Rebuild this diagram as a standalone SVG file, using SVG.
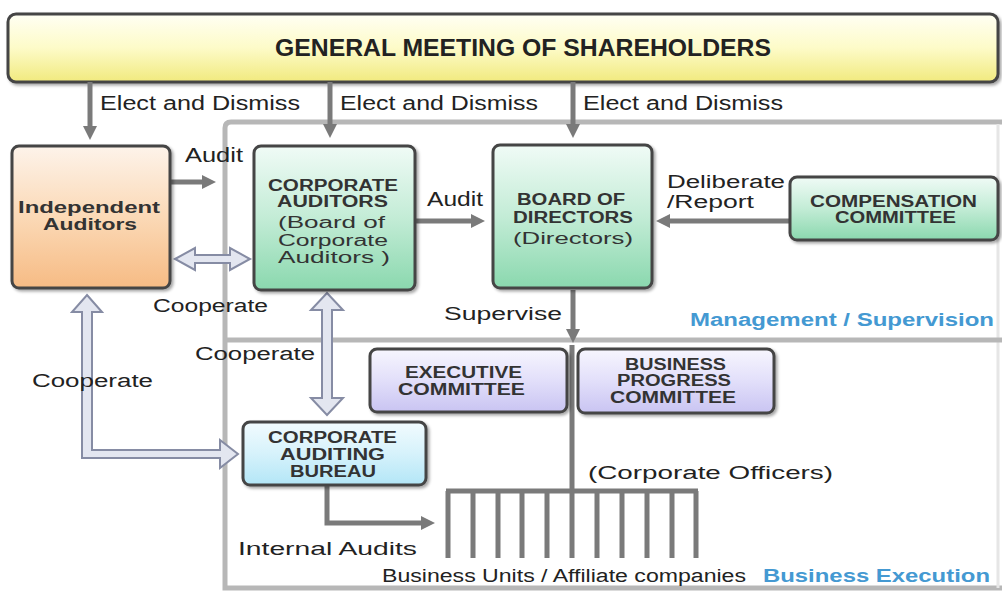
<svg xmlns="http://www.w3.org/2000/svg" width="1002" height="591" viewBox="0 0 1002 591">
<defs>
<linearGradient id="gY" x1="0" y1="0" x2="0" y2="1"><stop offset="0" stop-color="#fffff4"/><stop offset="0.5" stop-color="#fdfbc8"/><stop offset="1" stop-color="#f1ea7e"/></linearGradient>
<linearGradient id="gO" x1="0" y1="0" x2="0" y2="1"><stop offset="0" stop-color="#fdf3ea"/><stop offset="0.5" stop-color="#fbd9b6"/><stop offset="1" stop-color="#f6bb84"/></linearGradient>
<linearGradient id="gG" x1="0" y1="0" x2="0" y2="1"><stop offset="0" stop-color="#f0fbf6"/><stop offset="0.5" stop-color="#c3ecd6"/><stop offset="1" stop-color="#8ad8ae"/></linearGradient>
<linearGradient id="gP" x1="0" y1="0" x2="0" y2="1"><stop offset="0" stop-color="#f7f6fe"/><stop offset="0.5" stop-color="#e2dffa"/><stop offset="1" stop-color="#c9c4f2"/></linearGradient>
<linearGradient id="gB" x1="0" y1="0" x2="0" y2="1"><stop offset="0" stop-color="#f2fbfe"/><stop offset="0.5" stop-color="#d6f2fb"/><stop offset="1" stop-color="#b3e6f7"/></linearGradient>
<filter id="sh" x="-10%" y="-10%" width="130%" height="130%"><feDropShadow dx="2" dy="2" stdDeviation="1.5" flood-color="#000" flood-opacity="0.35"/></filter>
<marker id="ah" markerUnits="userSpaceOnUse" markerWidth="16" markerHeight="16" viewBox="0 0 16 16" refX="2" refY="8" orient="auto"><path d="M0,1 L14,8 L0,15 Z" fill="#7a7a7a"/></marker>
<style>
.box{stroke:#444;stroke-width:3;filter:url(#sh)}
.arr{stroke:#7a7a7a;stroke-width:5;fill:none;marker-end:url(#ah)}
.ln{stroke:#7a7a7a;stroke-width:5;fill:none}
.hol{fill:#e3e6f0;stroke:#868ca4;stroke-width:2;stroke-linejoin:miter}
.frame{fill:none;stroke:#b7b7b7;stroke-width:5}
text{font-family:"Liberation Sans",Arial,sans-serif;fill:#222}
.lb{font-size:18px}
.el{font-size:20px}
.bt{font-size:16px;font-weight:bold;fill:#333}
.bn{font-size:16px;fill:#333}
.blue{font-size:18px;font-weight:bold;fill:#4499d2}
</style>
</defs>
<rect width="1002" height="591" fill="#fff"/>
<g id="frame">
<path class="frame" d="M1002,122 H231 Q225,122 225,128 V588 H1002"/>
<line x1="998" y1="124" x2="998" y2="588" stroke="#e6e6e6" stroke-width="3"/>
<line class="frame" x1="225" y1="340" x2="1002" y2="340"/>
</g>
<g id="shareholders">
<rect class="box" x="8" y="14" width="990" height="68" rx="8" fill="url(#gY)"/>
<text x="275" y="56" font-size="24" font-weight="bold" textLength="496" lengthAdjust="spacingAndGlyphs">GENERAL MEETING OF SHAREHOLDERS</text>
</g>
<g id="connectors">
<line class="arr" x1="90" y1="82" x2="90" y2="128"/>
<line class="arr" x1="330" y1="82" x2="330" y2="126"/>
<line class="arr" x1="573" y1="82" x2="573" y2="126"/>
<line class="arr" x1="170" y1="182" x2="204" y2="182"/>
<line class="arr" x1="415" y1="221" x2="473" y2="221"/>
<line class="arr" x1="790" y1="221" x2="668" y2="221"/>
<line class="arr" x1="573" y1="290" x2="573" y2="331"/>
<path class="ln" d="M572,345 V491"/>
<path class="arr" d="M327,485 V523 H423"/>
<path class="ln" d="M446,491 H698 M448,491 V558 M473,491 V558 M498,491 V558 M522,491 V558 M547,491 V558 M572,491 V558 M597,491 V558 M622,491 V558 M647,491 V558 M672,491 V558 M696,491 V558"/>
<polygon class="hol" points="175,259 195,248 195,255 230,255 230,248 250,259 230,270 230,263 195,263 195,270"/>
<polygon class="hol" points="327,293 343,310 332,310 332,398 343,398 327,415 311,398 322,398 322,310 311,310"/>
<polygon class="hol" points="87,295 102,312 92,312 92,450 220,450 220,440 238,454 220,468 220,458 82,458 82,312 72,312"/>
</g>
<g id="labels">
<text class="el" x="100" y="110" textLength="200" lengthAdjust="spacingAndGlyphs">Elect and Dismiss</text>
<text class="el" x="340" y="110" textLength="198" lengthAdjust="spacingAndGlyphs">Elect and Dismiss</text>
<text class="el" x="583" y="110" textLength="200" lengthAdjust="spacingAndGlyphs">Elect and Dismiss</text>
<text class="el" x="185" y="162" textLength="58" lengthAdjust="spacingAndGlyphs">Audit</text>
<text class="el" x="427" y="206" textLength="56" lengthAdjust="spacingAndGlyphs">Audit</text>
<text class="lb" x="667" y="188" font-size="17" textLength="118" lengthAdjust="spacingAndGlyphs">Deliberate</text>
<text class="lb" x="667" y="208" font-size="17" textLength="87" lengthAdjust="spacingAndGlyphs">/Report</text>
<text class="lb" x="153" y="312" textLength="115" lengthAdjust="spacingAndGlyphs">Cooperate</text>
<text class="lb" x="195" y="360" textLength="120" lengthAdjust="spacingAndGlyphs">Cooperate</text>
<text class="lb" x="32" y="387" textLength="121" lengthAdjust="spacingAndGlyphs">Cooperate</text>
<text class="lb" x="444" y="320" textLength="118" lengthAdjust="spacingAndGlyphs">Supervise</text>
<text class="blue" x="690" y="326" textLength="304" lengthAdjust="spacingAndGlyphs">Management / Supervision</text>
<text class="lb" x="588" y="479" textLength="245" lengthAdjust="spacingAndGlyphs">(Corporate Officers)</text>
<text class="lb" x="238" y="555" textLength="179" lengthAdjust="spacingAndGlyphs">Internal Audits</text>
<text class="lb" x="382" y="582" font-size="19" textLength="364" lengthAdjust="spacingAndGlyphs">Business Units / Affiliate companies</text>
<text class="blue" x="763" y="582" textLength="227" lengthAdjust="spacingAndGlyphs">Business Execution</text>
</g>
<g id="independent-auditors">
<rect class="box" x="12" y="146" width="158" height="142" rx="7" fill="url(#gO)"/>
<text class="bt" x="18" y="213" font-size="17" textLength="142" lengthAdjust="spacingAndGlyphs">Independent</text>
<text class="bt" x="43" y="230" font-size="17" textLength="94" lengthAdjust="spacingAndGlyphs">Auditors</text>
</g>
<g id="corporate-auditors">
<rect class="box" x="254" y="146" width="161" height="144" rx="7" fill="url(#gG)"/>
<text class="bt" x="268" y="191" textLength="130" lengthAdjust="spacingAndGlyphs">CORPORATE</text>
<text class="bt" x="277" y="207" textLength="111" lengthAdjust="spacingAndGlyphs">AUDITORS</text>
<text class="bn" x="278" y="228" textLength="107" lengthAdjust="spacingAndGlyphs">(Board of</text>
<text class="bn" x="278" y="246" textLength="110" lengthAdjust="spacingAndGlyphs">Corporate</text>
<text class="bn" x="278" y="263" textLength="112" lengthAdjust="spacingAndGlyphs">Auditors )</text>
</g>
<g id="board-of-directors">
<rect class="box" x="493" y="145" width="159" height="143" rx="7" fill="url(#gG)"/>
<text class="bt" x="517" y="205" textLength="108" lengthAdjust="spacingAndGlyphs">BOARD OF</text>
<text class="bt" x="513" y="223" textLength="120" lengthAdjust="spacingAndGlyphs">DIRECTORS</text>
<text class="bn" x="513" y="244" textLength="120" lengthAdjust="spacingAndGlyphs">(Directors)</text>
</g>
<g id="compensation-committee">
<rect class="box" x="790" y="177" width="208" height="63" rx="7" fill="url(#gG)"/>
<text class="bt" x="810" y="207" textLength="167" lengthAdjust="spacingAndGlyphs">COMPENSATION</text>
<text class="bt" x="835" y="223" textLength="121" lengthAdjust="spacingAndGlyphs">COMMITTEE</text>
</g>
<g id="executive-committee">
<rect class="box" x="370" y="349" width="197" height="63" rx="7" fill="url(#gP)"/>
<text class="bt" x="405" y="378" textLength="117" lengthAdjust="spacingAndGlyphs">EXECUTIVE</text>
<text class="bt" x="398" y="395" textLength="127" lengthAdjust="spacingAndGlyphs">COMMITTEE</text>
</g>
<g id="business-progress-committee">
<rect class="box" x="578" y="349" width="196" height="64" rx="7" fill="url(#gP)"/>
<text class="bt" x="625" y="370" textLength="101" lengthAdjust="spacingAndGlyphs">BUSINESS</text>
<text class="bt" x="617" y="386" textLength="114" lengthAdjust="spacingAndGlyphs">PROGRESS</text>
<text class="bt" x="610" y="403" textLength="126" lengthAdjust="spacingAndGlyphs">COMMITTEE</text>
</g>
<g id="corporate-auditing-bureau">
<rect class="box" x="243" y="422" width="183" height="63" rx="7" fill="url(#gB)"/>
<text class="bt" x="268" y="443" textLength="129" lengthAdjust="spacingAndGlyphs">CORPORATE</text>
<text class="bt" x="280" y="460" textLength="105" lengthAdjust="spacingAndGlyphs">AUDITING</text>
<text class="bt" x="290" y="477" textLength="86" lengthAdjust="spacingAndGlyphs">BUREAU</text>
</g>
</svg>
